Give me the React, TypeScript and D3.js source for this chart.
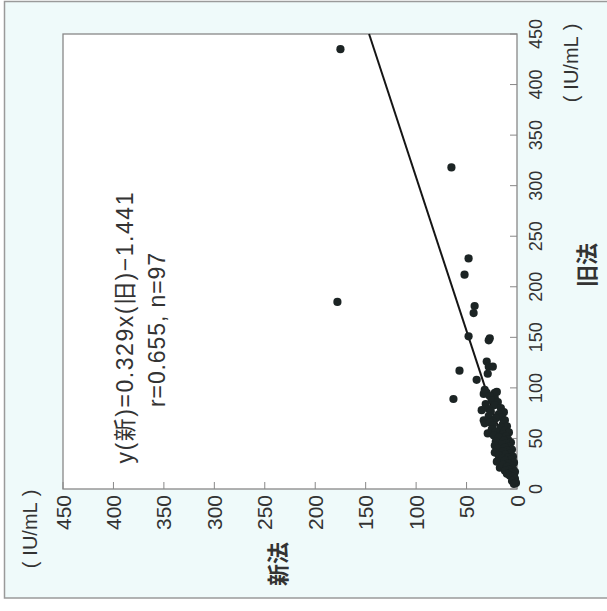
import React from 'react';
import * as d3 from 'd3';

// 旧法 (old method) values, IU/mL
const oldMethod: number[] = [
  435, 185, 318, 228, 212, 181, 174, 151, 149, 147, 117, 89, 108, 126, 121, 121, 114, 94, 95, 95, 90, 78, 68, 65, 55, 21,
  98, 96, 92, 88, 86, 84, 83, 80, 79,
  77, 76, 74, 72, 71, 70, 68, 67, 66, 64,
  63, 62, 61, 59, 58, 57, 56, 54, 53, 52, 51,
  49, 48, 47, 46, 45, 44, 43, 42, 41, 40,
  39, 38, 37, 36, 35, 34, 33, 32, 31, 30,
  29, 28, 27, 26, 25, 24, 23, 22,
  20, 19, 18, 17, 16, 15, 14, 13, 12,
  10, 8, 6, 5,
];
// 新法 (new method) values, IU/mL
const newMethod: number[] = [
  175, 178, 65, 48, 52, 42, 43, 48, 27, 28, 57, 63, 40, 30, 28, 24, 29, 33, 30, 22, 22, 35, 33, 32, 29, 17,
  32, 20, 27, 25, 19, 31, 22, 16, 28,
  26, 13, 18, 28, 15, 21, 12, 24, 27, 14,
  24, 10, 16, 25, 12, 21, 8, 14, 23, 11, 18,
  9, 13, 21, 6, 11, 15, 22, 8, 12, 19,
  5, 10, 14, 22, 7, 12, 18, 4, 9, 15,
  6, 12, 20, 3, 9, 14, 5, 10,
  4, 8, 12, 2, 6, 10, 3, 7, 4,
  2, 5, 1, 3,
];

const oldTicks: number[] = [0, 50, 100, 150, 200, 250, 300, 350, 400, 450];
const newTicks: number[] = [0, 50, 100, 150, 200, 250, 300, 350, 400, 450];

const slope = 0.329;
const intercept = -1.441;
const eqLine1 = 'y(新)=0.329x(旧)−1.441';
const eqLine2 = 'r=0.655, n=97';
const xTitle = '旧法';
const yTitle = '新法';
const unitOpen = '(';
const unitBody = 'IU/mL';
const unitClose = ')';

const FONT = "'Liberation Sans', Arial, Helvetica, 'Noto Sans CJK JP', sans-serif";
const CJK = "'Noto Sans CJK JP', sans-serif";

function Unit(props: { x: number; y: number; color: string }) {
  return (
    <text x={props.x} y={props.y} textAnchor="middle" dominantBaseline="central" fontSize={20} fontFamily={FONT} fill={props.color}>
      <tspan>{unitOpen}</tspan>
      <tspan dx={6}>{unitBody}</tspan>
      <tspan dx={6}>{unitClose}</tspan>
    </text>
  );
}

export default function App() {
  const W = 455;
  const H = 454;
  const x = d3.scaleLinear().domain([0, 450]).range([0, W]);
  const y = d3.scaleLinear().domain([0, 450]).range([H, 0]);
  const x0 = -intercept / slope;
  const linePts: [number, number][] = [
    [x0, 0],
    [450, slope * 450 + intercept],
  ];
  const lineGen = d3
    .line<[number, number]>()
    .x((d) => x(d[0]))
    .y((d) => y(d[1]));
  const points = oldMethod.map((o, i) => ({ o, n: newMethod[i] }));
  const textColor = '#333';

  return (
    <svg width={607} height={611} style={{ position: 'absolute', left: 0, top: 0 }}>
      <rect width={607} height={611} fill="#ffffff" />
      <rect x={4.5} y={1.5} width={610} height={596.5} fill="#effafa" stroke="#9a9a9a" strokeWidth={1.5} />
      <g transform="translate(63,489) rotate(-90)">
        <rect x={0} y={0} width={W} height={H} fill="#ffffff" stroke="#888" strokeWidth={1.3} />
        {/* old-method ticks (bottom in chart frame) */}
        {oldTicks.map((t) => (
          <g key={'xt' + t}>
            <line x1={x(t)} x2={x(t)} y1={H} y2={H - 7} stroke="#888" strokeWidth={1} />
            <text x={x(t)} y={H + 25} textAnchor="middle" fontSize={18} fontFamily={FONT} fill={textColor}>
              {t}
            </text>
          </g>
        ))}
        {/* new-method ticks (left in chart frame) */}
        {newTicks.map((t) => (
          <g key={'yt' + t}>
            <line x1={0} x2={7} y1={y(t)} y2={y(t)} stroke="#888" strokeWidth={1} />
            <text x={-6} y={y(t) + 7.5} textAnchor="end" fontSize={21} fontFamily={FONT} fill={textColor}>
              {t}
            </text>
          </g>
        ))}
        {/* regression line */}
        <path d={lineGen(linePts) || ''} stroke="#151515" strokeWidth={2} fill="none" />
        {/* points */}
        {points.map((p, i) => (
          <circle key={i} cx={x(p.o)} cy={y(p.n)} r={4.1} fill="#1c2424" />
        ))}
        {/* equation */}
        <text x={161} y={70} textAnchor="middle" fontSize={23} fontFamily={FONT} fill={textColor} textLength={271} lengthAdjust="spacing">
          {eqLine1}
        </text>
        <text x={159} y={102} textAnchor="middle" fontSize={23} fontFamily={FONT} fill={textColor} textLength={154} lengthAdjust="spacing">
          {eqLine2}
        </text>
        {/* axis titles */}
        <text x={224} y={522} textAnchor="middle" dominantBaseline="central" fontSize={22} fontWeight="bold" fontFamily={CJK} fill={textColor}>
          {xTitle}
        </text>
        <text x={-75} y={213} textAnchor="middle" dominantBaseline="central" fontSize={22} fontWeight="bold" fontFamily={CJK} fill={textColor}>
          {yTitle}
        </text>
        {/* units */}
        <Unit x={426} y={508} color={textColor} />
        <Unit x={-40} y={-33} color={textColor} />
      </g>
    </svg>
  );
}
